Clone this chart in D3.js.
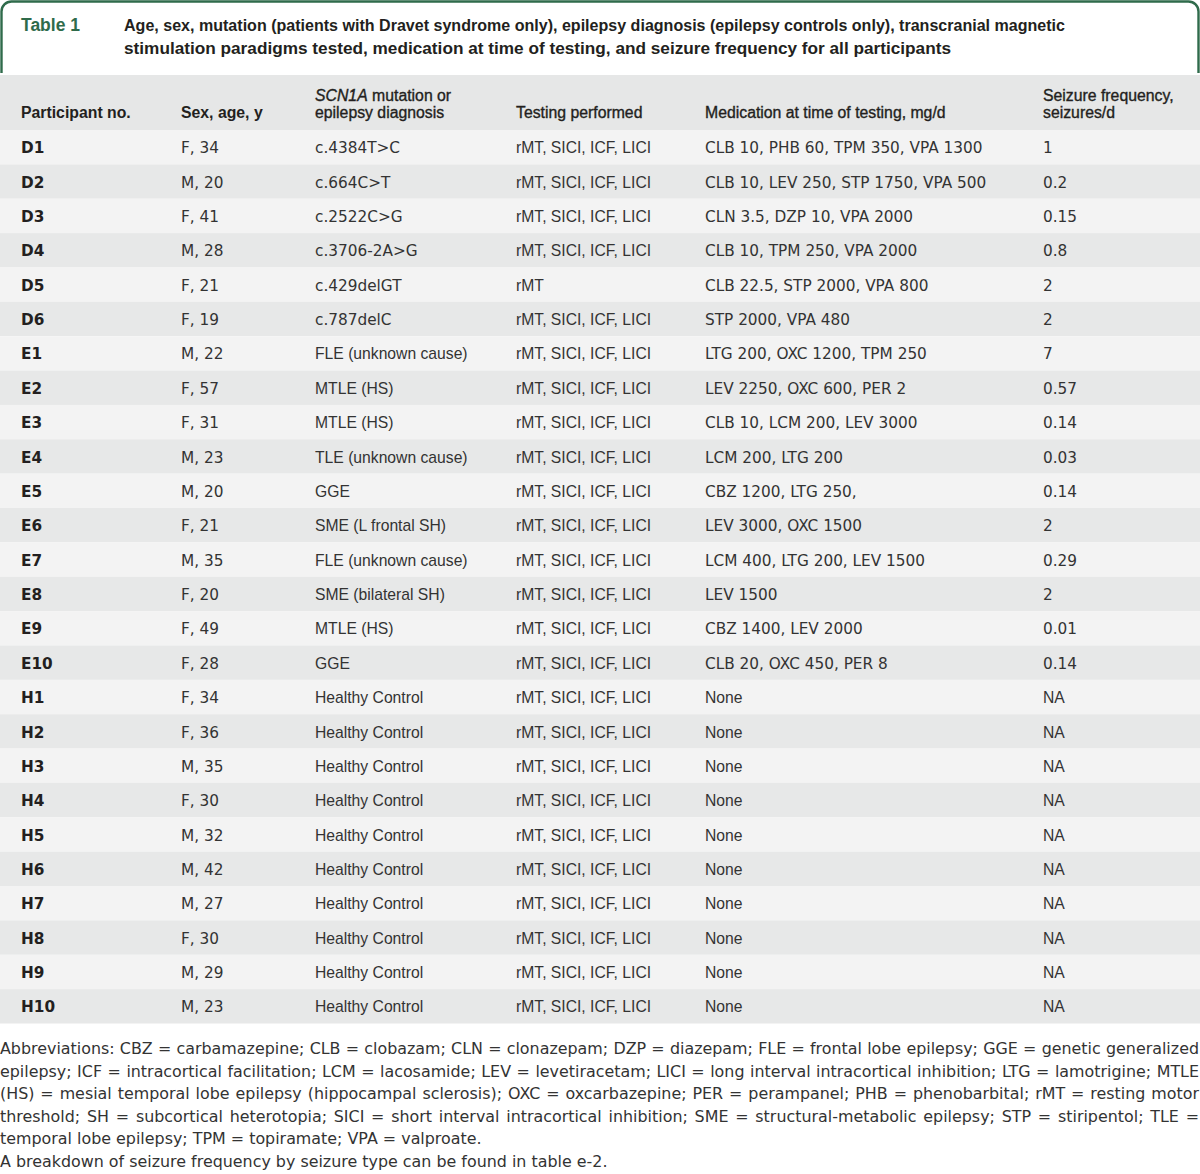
<!DOCTYPE html>
<html>
<head>
<meta charset="utf-8">
<script src="https://cdn.jsdelivr.net/npm/d3@7"></script>
<style>
  html, body { margin: 0; padding: 0; background: #fff; }
  svg { display: block; }
</style>
</head>
<body>
<div id="chart"></div>
<script>
// Page size
const width = 1200;
const height = 1174;

// Table content
const tableLabel = "Table 1";
const titleLines = [
  "Age, sex, mutation (patients with Dravet syndrome only), epilepsy diagnosis (epilepsy controls only), transcranial magnetic",
  "stimulation paradigms tested, medication at time of testing, and seizure frequency for all participants"
];
const columnHeaders = [
  ["Participant no."],
  ["Sex, age, y"],
  ["SCN1A mutation or", "epilepsy diagnosis"],
  ["Testing performed"],
  ["Medication at time of testing, mg/d"],
  ["Seizure frequency,", "seizures/d"]
];
const participants = ["D1", "D2", "D3", "D4", "D5", "D6", "E1", "E2", "E3", "E4", "E5", "E6", "E7", "E8", "E9", "E10",
  "H1", "H2", "H3", "H4", "H5", "H6", "H7", "H8", "H9", "H10"];
const sexAge = ["F, 34", "M, 20", "F, 41", "M, 28", "F, 21", "F, 19", "M, 22", "F, 57", "F, 31", "M, 23", "M, 20", "F, 21",
  "M, 35", "F, 20", "F, 49", "F, 28", "F, 34", "F, 36", "M, 35", "F, 30", "M, 32", "M, 42", "M, 27", "F, 30", "M, 29", "M, 23"];
const mutationOrDiagnosis = ["c.4384T>C", "c.664C>T", "c.2522C>G", "c.3706-2A>G", "c.429delGT", "c.787delC",
  "FLE (unknown cause)", "MTLE (HS)", "MTLE (HS)", "TLE (unknown cause)", "GGE", "SME (L frontal SH)",
  "FLE (unknown cause)", "SME (bilateral SH)", "MTLE (HS)", "GGE",
  "Healthy Control", "Healthy Control", "Healthy Control", "Healthy Control", "Healthy Control",
  "Healthy Control", "Healthy Control", "Healthy Control", "Healthy Control", "Healthy Control"];
const testing = ["rMT, SICI, ICF, LICI", "rMT, SICI, ICF, LICI", "rMT, SICI, ICF, LICI", "rMT, SICI, ICF, LICI", "rMT",
  "rMT, SICI, ICF, LICI", "rMT, SICI, ICF, LICI", "rMT, SICI, ICF, LICI", "rMT, SICI, ICF, LICI", "rMT, SICI, ICF, LICI",
  "rMT, SICI, ICF, LICI", "rMT, SICI, ICF, LICI", "rMT, SICI, ICF, LICI", "rMT, SICI, ICF, LICI", "rMT, SICI, ICF, LICI",
  "rMT, SICI, ICF, LICI", "rMT, SICI, ICF, LICI", "rMT, SICI, ICF, LICI", "rMT, SICI, ICF, LICI", "rMT, SICI, ICF, LICI",
  "rMT, SICI, ICF, LICI", "rMT, SICI, ICF, LICI", "rMT, SICI, ICF, LICI", "rMT, SICI, ICF, LICI", "rMT, SICI, ICF, LICI",
  "rMT, SICI, ICF, LICI"];
const medication = ["CLB 10, PHB 60, TPM 350, VPA 1300", "CLB 10, LEV 250, STP 1750, VPA 500", "CLN 3.5, DZP 10, VPA 2000",
  "CLB 10, TPM 250, VPA 2000", "CLB 22.5, STP 2000, VPA 800", "STP 2000, VPA 480", "LTG 200, OXC 1200, TPM 250",
  "LEV 2250, OXC 600, PER 2", "CLB 10, LCM 200, LEV 3000", "LCM 200, LTG 200", "CBZ 1200, LTG 250,",
  "LEV 3000, OXC 1500", "LCM 400, LTG 200, LEV 1500", "LEV 1500", "CBZ 1400, LEV 2000", "CLB 20, OXC 450, PER 8",
  "None", "None", "None", "None", "None", "None", "None", "None", "None", "None"];
const seizureFreq = ["1", "0.2", "0.15", "0.8", "2", "2", "7", "0.57", "0.14", "0.03", "0.14", "2", "0.29", "2", "0.01", "0.14",
  "NA", "NA", "NA", "NA", "NA", "NA", "NA", "NA", "NA", "NA"];
const footnoteLines = [
  "Abbreviations: CBZ = carbamazepine; CLB = clobazam; CLN = clonazepam; DZP = diazepam; FLE = frontal lobe epilepsy; GGE = genetic generalized",
  "epilepsy; ICF = intracortical facilitation; LCM = lacosamide; LEV = levetiracetam; LICI = long interval intracortical inhibition; LTG = lamotrigine; MTLE",
  "(HS) = mesial temporal lobe epilepsy (hippocampal sclerosis); OXC = oxcarbazepine; PER = perampanel; PHB = phenobarbital; rMT = resting motor",
  "threshold; SH = subcortical heterotopia; SICI = short interval intracortical inhibition; SME = structural-metabolic epilepsy; STP = stiripentol; TLE =",
  "temporal lobe epilepsy; TPM = topiramate; VPA = valproate.",
  "A breakdown of seizure frequency by seizure type can be found in table e-2."
];

// Styles
const green = "#2f6b4b";
const ink = "#231f20";
const cellInk = "#333333";
const headerFill = "#e6e7e7";
const rowFills = ["#f3f3f3", "#e7e8e8"];
const wideFont = "'DejaVu Sans', Verdana, sans-serif";
const narrowFont = "'Liberation Sans', Arial, sans-serif";

const svg = d3.select("#chart")
  .append("svg")
  .attr("width", width)
  .attr("height", height);

// Title box (open at the bottom, rounded top corners)
const box = d3.path();
box.moveTo(1.5, 73);
box.lineTo(1.5, 11);
box.arcTo(1.5, 1.5, 11, 1.5, 10);
box.lineTo(1188, 1.5);
box.arcTo(1198.5, 1.5, 1198.5, 11, 10);
box.lineTo(1198.5, 73);
svg.append("path")
  .attr("d", box.toString())
  .attr("fill", "none")
  .attr("stroke", green)
  .attr("stroke-width", 2.4);

svg.append("text")
  .attr("x", 21).attr("y", 31)
  .attr("font-family", narrowFont)
  .attr("font-weight", "bold")
  .attr("font-size", 17.5)
  .attr("fill", green)
  .text(tableLabel);

const titleWidths = [941, 827];
svg.selectAll("text.title")
  .data(titleLines)
  .enter()
  .append("text")
  .attr("class", "title")
  .attr("x", 124)
  .attr("y", (d, i) => 31 + i * 22.5)
  .attr("font-family", narrowFont)
  .attr("font-weight", "bold")
  .attr("font-size", 16.5)
  .attr("fill", ink)
  .attr("textLength", (d, i) => titleWidths[i])
  .attr("lengthAdjust", "spacingAndGlyphs")
  .text(d => d);

// Scales for rows and columns
const columnKeys = d3.range(columnHeaders.length);
const x = d3.scaleOrdinal()
  .domain(columnKeys)
  .range([21, 181, 315, 516, 705, 1043]);

const y = d3.scaleBand()
  .domain(participants)
  .range([130, 1023.5]);

// Header band
svg.append("rect")
  .attr("x", 0).attr("y", 75)
  .attr("width", width).attr("height", 55)
  .attr("fill", headerFill);

const headerGroups = svg.selectAll("g.header")
  .data(columnHeaders)
  .enter()
  .append("g")
  .attr("class", "header");

headerGroups.each(function(lines, col) {
  const g = d3.select(this);
  lines.forEach((line, li) => {
    const baseY = 118 - (lines.length - 1 - li) * 17.5;
    const t = g.append("text")
      .attr("x", x(col))
      .attr("y", baseY)
      .attr("font-size", 15.8)
      .attr("fill", ink);
    if (col < 2) {
      t.attr("font-family", narrowFont).attr("font-weight", "bold");
    } else {
      t.attr("font-family", narrowFont)
        .attr("stroke", ink).attr("stroke-width", 0.35);
    }
    if (line.startsWith("SCN1A")) {
      t.append("tspan").attr("font-style", "italic").text("SCN1A");
      t.append("tspan").text(line.slice(5));
    } else {
      t.text(line);
    }
  });
});

// Body rows
const rows = participants.map((p, i) => [p, sexAge[i], mutationOrDiagnosis[i], testing[i], medication[i], seizureFreq[i]]);

svg.selectAll("rect.row")
  .data(participants)
  .enter()
  .append("rect")
  .attr("class", "row")
  .attr("x", 0)
  .attr("y", d => y(d))
  .attr("width", width)
  .attr("height", y.bandwidth())
  .attr("fill", (d, i) => rowFills[i % 2]);

function isNarrow(col, value) {
  if (col === 3) return true;
  if (col === 2) return !value.startsWith("c.");
  if (col === 4) return value === "None";
  if (col === 5) return value === "NA";
  return false;
}

const rowGroups = svg.selectAll("g.row")
  .data(rows)
  .enter()
  .append("g")
  .attr("class", "row")
  .attr("transform", (d, i) => `translate(0,${y(participants[i]) + 23.3})`);

rowGroups.selectAll("text")
  .data(d => d.map((v, col) => ({ v, col })))
  .enter()
  .append("text")
  .attr("x", d => x(d.col))
  .attr("y", 0)
  .attr("font-family", d => isNarrow(d.col, d.v) ? narrowFont : wideFont)
  .attr("font-size", d => isNarrow(d.col, d.v) ? 15.7 : 15.3)
  .attr("font-weight", d => d.col === 0 ? "bold" : "normal")
  .attr("fill", d => d.col === 0 ? ink : cellInk)
  .text(d => d.v);

// Footnote, justified to the full width except the last lines of each paragraph
const footY = d3.scaleLinear()
  .domain([0, footnoteLines.length - 1])
  .range([1054, 1167]);

svg.selectAll("text.foot")
  .data(footnoteLines)
  .enter()
  .append("text")
  .attr("class", "foot")
  .attr("x", 0)
  .attr("y", (d, i) => footY(i))
  .attr("font-family", wideFont)
  .attr("font-size", 15.9)
  .attr("fill", cellInk)
  .text(d => d)
  .each(function(d, i) {
    if (i >= 4) return;
    const natural = this.getComputedTextLength();
    const gaps = d.split(" ").length - 1;
    const extra = (width - 1 - natural) / gaps;
    d3.select(this).attr("word-spacing", extra);
  });
</script>
</body>
</html>
